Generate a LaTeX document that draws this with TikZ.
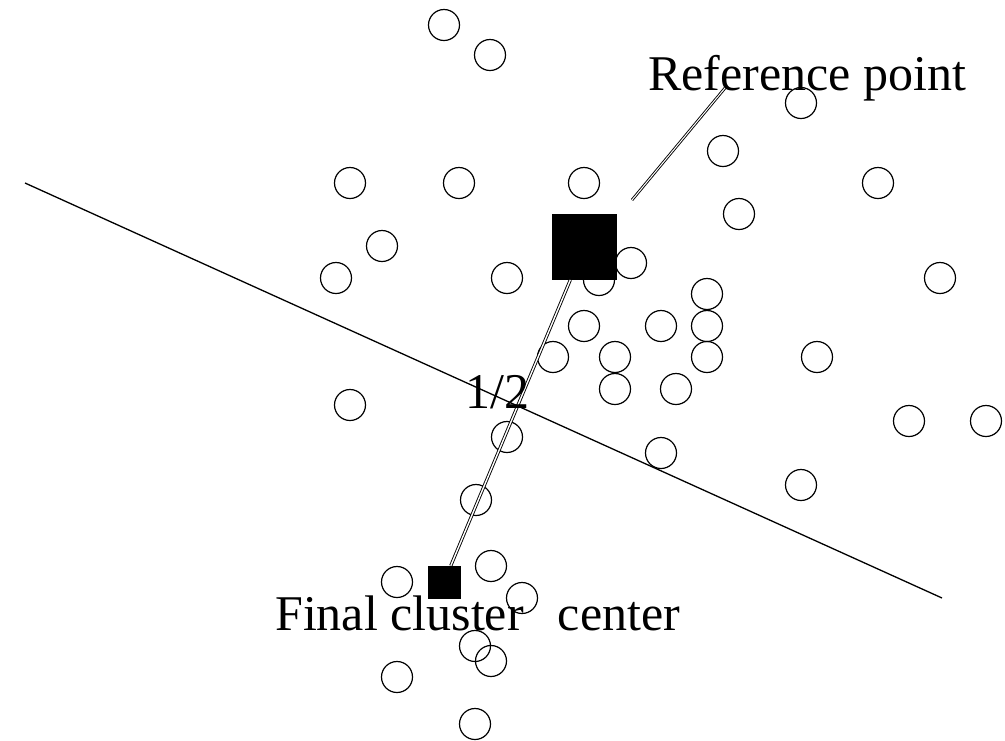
\documentclass[tikz,border=0pt]{standalone}
\usepackage{fontspec}
\setmainfont{Liberation Serif}
\begin{document}
\begin{tikzpicture}[x=1pt,y=-1pt,
  pt/.style={draw,circle,line width=1.2pt,minimum size=31pt,inner sep=0pt},
  sq/.style={draw,fill=black,line width=0.8pt,inner sep=0pt},
  lbl/.style={font=\fontsize{50}{60}\selectfont,inner sep=0pt,anchor=base west},
  thinline/.style={line width=1.3pt}]
\useasboundingbox (0,0) rectangle (1005,740);
% data points
\foreach \n/\x/\y in {1/444/25,2/490/55,3/801/103,4/723/151,5/350/183,6/459/183,7/584/183,8/878/183,
  9/739/214,10/382/246,11/336/278,12/507/278,13/631/263,14/599/280,15/940/278,16/707/294,
  17/584/326,18/661/326,19/707/326,20/553/357,21/615/357,22/707/357,23/817/357,24/615/389,
  25/676/389,26/350/405,27/507/437,28/909/421,29/986/421,30/661/453,31/801/485,32/476/500,
  33/491/566,34/397/582,35/522/598,36/475/646,37/491/661,38/397/677,39/475/724}
  \node[pt] (c\n) at (\x,\y) {};
% dividing line
\coordinate (l1) at (25,183);
\coordinate (l2) at (942,598);
\draw[thinline] (l1) -- (l2);
% squares
\node[sq,minimum width=64pt,minimum height=65pt] (ref) at (584,247) {};
\node[sq,minimum size=32pt] (fin) at (444,582) {};
\draw[line width=0.9pt,double,double distance=1.4pt] (ref) -- (fin);
% leader
\coordinate (lead1) at (632,200);
\coordinate (lead2) at (725,88);
\draw[line width=0.9pt,double,double distance=1pt] (lead1) -- (lead2);
% labels
\node[lbl] (tref) at (648,90) {Reference point};
\node[lbl] (tfin) at (275,630) {Final cluster\hspace{34pt}center};
\node[lbl] (thalf) at (465,408) {1/2};
\end{tikzpicture}
\end{document}
